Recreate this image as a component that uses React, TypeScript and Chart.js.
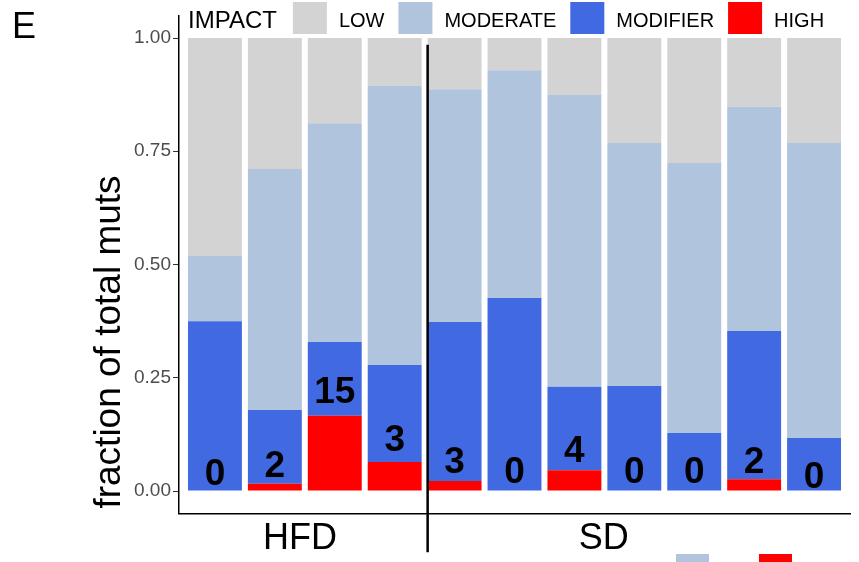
import React, { useEffect, useRef } from 'react';
import { Chart, registerables } from 'chart.js';

Chart.register(...registerables);

// ---- data ----
const samples = [1, 2, 3, 4, 5, 6, 7, 8, 9, 10, 11];
const highFrac = [0, 0.016, 0.166, 0.064, 0.022, 0, 0.046, 0, 0, 0.026, 0];
const modifierFrac = [0.375, 0.163, 0.163, 0.214, 0.351, 0.426, 0.184, 0.232, 0.128, 0.327, 0.117];
const moderateFrac = [0.144, 0.532, 0.483, 0.616, 0.514, 0.503, 0.644, 0.536, 0.596, 0.495, 0.651];
const lowFrac = [0.481, 0.289, 0.188, 0.106, 0.113, 0.071, 0.126, 0.232, 0.276, 0.152, 0.232];
const highCounts = [0, 2, 15, 3, 3, 0, 4, 0, 0, 2, 0];
const countLabelY = [0.013, 0.031, 0.194, 0.088, 0.04, 0.018, 0.064, 0.018, 0.018, 0.04, 0.007];
const yTicks = [0, 0.25, 0.5, 0.75, 1];
const yTickLabels = ['0.00', '0.25', '0.50', '0.75', '1.00'];
const groupNames = ['HFD', 'SD'];
const groupCenters = [2.42, 7.49];
const dividerAt = 4.55;
const impactNames = ['HIGH', 'MODIFIER', 'MODERATE', 'LOW'];
const impactColors = ['#FF0000', '#4169E1', '#B0C4DE', '#D3D3D3'];

const FONT = '"Liberation Sans", Arial, Helvetica, sans-serif';

const overlay = {
  id: 'overlay',
  afterDatasetsDraw(chart: any) {
    const { ctx, scales } = chart;
    const x = scales.x, y = scales.y;
    ctx.save();
    ctx.font = `bold 37px ${FONT}`;
    ctx.fillStyle = '#000';
    ctx.textAlign = 'center';
    ctx.textBaseline = 'alphabetic';
    highCounts.forEach((c, i) => {
      ctx.fillText(String(c), x.getPixelForValue(samples[i]), y.getPixelForValue(countLabelY[i]));
    });
    ctx.restore();
  },
  afterDraw(chart: any) {
    const { ctx, scales } = chart;
    const x = scales.x, y = scales.y;
    ctx.save();
    // divider line between groups
    const dx = x.getPixelForValue(dividerAt);
    ctx.strokeStyle = '#000';
    ctx.lineWidth = 2.5;
    ctx.beginPath();
    ctx.moveTo(dx, y.getPixelForValue(0.985));
    ctx.lineTo(dx, y.getPixelForValue(-0.135));
    ctx.stroke();

    // group labels
    ctx.fillStyle = '#000';
    ctx.font = `36px ${FONT}`;
    ctx.textAlign = 'center';
    ctx.textBaseline = 'alphabetic';
    groupNames.forEach((g, i) => {
      ctx.fillText(g, x.getPixelForValue(groupCenters[i]), 549);
    });

    // y title
    ctx.save();
    ctx.translate(120, 342);
    ctx.rotate(-Math.PI / 2);
    ctx.font = `37px ${FONT}`;
    ctx.textAlign = 'center';
    ctx.fillText('fraction of total muts', 0, 0);
    ctx.restore();

    // panel letter
    ctx.textAlign = 'left';
    ctx.font = `36px ${FONT}`;
    ctx.fillText('E', 12, 38);

    // legend (top)
    ctx.font = `24px ${FONT}`;
    ctx.fillText('IMPACT', 188, 28);
    let lx = 188 + ctx.measureText('IMPACT').width + 16;
    ctx.font = `20px ${FONT}`;
    const ds = chart.data.datasets.slice().reverse();
    ds.forEach((d: any) => {
      ctx.fillStyle = d.backgroundColor;
      ctx.fillRect(lx, 2, 34, 32);
      lx += 34 + 12;
      ctx.fillStyle = '#000';
      ctx.fillText(d.label, lx, 27);
      lx += ctx.measureText(d.label).width + 14;
    });

    // cut-off legend keys at the bottom edge
    ctx.fillStyle = impactColors[2];
    ctx.fillRect(676, 554, 33, 10);
    ctx.fillStyle = impactColors[0];
    ctx.fillRect(759, 554, 33, 10);
    ctx.restore();
  },
};

export default function App() {
  const ref = useRef<HTMLCanvasElement>(null);
  useEffect(() => {
    if (!ref.current) return;
    const series = [highFrac, modifierFrac, moderateFrac, lowFrac];
    const chart = new Chart(ref.current, {
      type: 'bar',
      data: {
        datasets: series.map((s, k) => ({
          label: impactNames[k],
          data: s.map((v, i) => ({ x: samples[i], y: v })),
          backgroundColor: impactColors[k],
          borderWidth: 0,
          barPercentage: 0.9,
          categoryPercentage: 1,
        })),
      },
      options: {
        responsive: false,
        animation: false,
        devicePixelRatio: 1,
        layout: { padding: { top: 15.35, right: 9, left: 0, bottom: 0 } },
        plugins: { legend: { display: false }, tooltip: { enabled: false } },
        scales: {
          x: {
            type: 'linear',
            min: 0.4,
            max: 11.6,
            offset: false,
            stacked: true,
            ticks: { display: false },
            grid: { display: false, offset: false },
            border: { display: true, color: '#000', width: 1.5 },
            afterFit: (s: any) => { s.height = 48.35; },
          },
          y: {
            type: 'linear',
            min: -0.05,
            max: 1.05,
            stacked: true,
            afterBuildTicks: (s: any) => { s.ticks = yTicks.map((v) => ({ value: v })); },
            ticks: {
              font: { family: FONT, size: 19 },
              color: '#4D4D4D',
              padding: 2,
              callback: (v: any) => {
                const i = yTicks.indexOf(Number(v));
                return i >= 0 ? yTickLabels[i] : '';
              },
            },
            grid: { drawOnChartArea: false, drawTicks: true, tickLength: 6, color: '#333333', lineWidth: 1 },
            border: { display: true, color: '#000', width: 1.5 },
            afterFit: (s: any) => { s.width = 179; },
          },
        },
      },
      plugins: [overlay],
    } as any);
    return () => chart.destroy();
  }, []);
  return (
    <div style={{ position: 'fixed', left: 0, top: 0, width: 859, height: 562, background: '#fff' }}>
      <canvas ref={ref} width={859} height={562} />
    </div>
  );
}
